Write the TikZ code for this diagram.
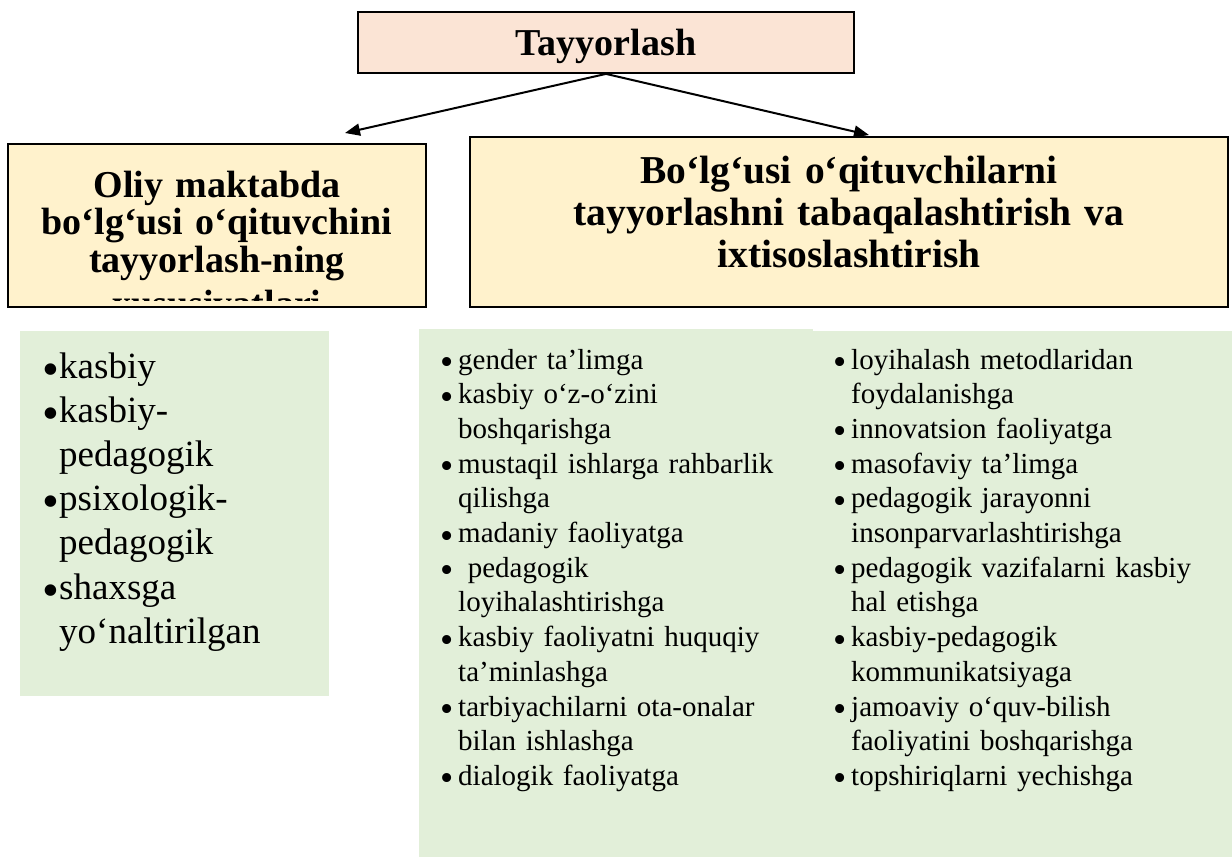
\documentclass[tikz,border=0pt]{standalone}
\usepackage{fontspec}
\setmainfont{Liberation Serif}
\definecolor{boxpink}{HTML}{FBE4D5}
\definecolor{boxyellow}{HTML}{FFF2CC}
\definecolor{boxgreen}{HTML}{E2EFD9}
\usetikzlibrary{arrows.meta,positioning}
\newcommand{\bulitem}[1]{\makebox[#1][l]{\raisebox{-0.19em}{\scalebox{1.3}{\textbullet}}}}
\newcommand{\hangitem}[1]{\hspace*{#1}}

\begin{document}
\begin{tikzpicture}[x=1pt,y=-1pt,
  hdrbox/.style={draw,line width=1.8pt,inner sep=0pt},
  head/.style 2 args={font=\bfseries\fontsize{38}{#1}\selectfont,align=center,
    text width=#2,inner sep=0pt,anchor=base},
  lst/.style 2 args={font=\fontsize{#1}{#2}\selectfont,align=left,
    text width=380pt,inner sep=0pt,anchor=base west},
  arr/.style={-{Triangle[length=15pt,width=12pt]},line width=2pt}
]
  \useasboundingbox (0,0) rectangle (1232,857);
  % green panels behind the lists
  \fill[boxgreen] (20,331) rectangle (329,696);
  \fill[boxgreen] (419,329) rectangle (813,857);
  \fill[boxgreen] (813,331) rectangle (1232,857);

  \node[hdrbox,fill=boxpink,minimum width=496pt,minimum height=61pt] (prep) at (606,42.5) {};
  \node[head={38}{400pt},font=\bfseries\fontsize{38}{38}\selectfont] (preplbl) at (606,55) {Tayyorlash};

  \node[hdrbox,fill=boxyellow,minimum width=418pt,minimum height=163pt] (feat) at (217,225.5) {};
  \begin{scope}
    \clip (12,148) rectangle (422,300);
    \node[head={37.7}{400pt}] (featlbl) at (217,197)
      {Oliy maktabda\\bo‘lg‘usi o‘qituvchini\\tayyorlash-ning\\[6pt]xususiyatlari};
  \end{scope}

  \node[hdrbox,fill=boxyellow,minimum width=758pt,minimum height=170pt] (spec) at (849,222) {};
  \node[head={42}{720pt},font=\bfseries\fontsize{39.5}{42}\selectfont] (speclbl) at (849,183)
    {Bo‘lg‘usi o‘qituvchilarni\\tayyorlashni tabaqalashtirish va\\ixtisoslashtirish};

  \coordinate (tipL) at (345,133);
  \coordinate (tipR) at (869,135);
  \draw[arr] (prep.south) -- (tipL);
  \draw[arr] (prep.south) -- (tipR);

  % Lists
  \node[lst={37}{44.2}] (kinds) at (42,378)
    {\bulitem{17pt}kasbiy\\
     \bulitem{17pt}kasbiy-\\
     \hangitem{17pt}pedagogik\\
     \bulitem{17pt}psixologik-\\
     \hangitem{17pt}pedagogik\\
     \bulitem{17pt}shaxsga\\
     \hangitem{17pt}yo‘naltirilgan};
  \node[lst={29}{34.7}] (skillsA) at (440,369)
    {\bulitem{18pt}gender ta’limga\\
     \bulitem{18pt}kasbiy o‘z-o‘zini\\
     \hangitem{18pt}boshqarishga\\
     \bulitem{18pt}mustaqil ishlarga rahbarlik\\
     \hangitem{18pt}qilishga\\
     \bulitem{18pt}madaniy faoliyatga\\
     \bulitem{18pt}\ pedagogik\\
     \hangitem{18pt}loyihalashtirishga\\
     \bulitem{18pt}kasbiy faoliyatni huquqiy\\
     \hangitem{18pt}ta’minlashga\\
     \bulitem{18pt}tarbiyachilarni ota-onalar\\
     \hangitem{18pt}bilan ishlashga\\
     \bulitem{18pt}dialogik faoliyatga};
  \node[lst={29}{34.7}] (skillsB) at (833,369)
    {\bulitem{18pt}loyihalash metodlaridan\\
     \hangitem{18pt}foydalanishga\\
     \bulitem{18pt}innovatsion faoliyatga\\
     \bulitem{18pt}masofaviy ta’limga\\
     \bulitem{18pt}pedagogik jarayonni\\
     \hangitem{18pt}insonparvarlashtirishga\\
     \bulitem{18pt}pedagogik vazifalarni kasbiy\\
     \hangitem{18pt}hal etishga\\
     \bulitem{18pt}kasbiy-pedagogik\\
     \hangitem{18pt}kommunikatsiyaga\\
     \bulitem{18pt}jamoaviy o‘quv-bilish\\
     \hangitem{18pt}faoliyatini boshqarishga\\
     \bulitem{18pt}topshiriqlarni yechishga};
\end{tikzpicture}
\end{document}
